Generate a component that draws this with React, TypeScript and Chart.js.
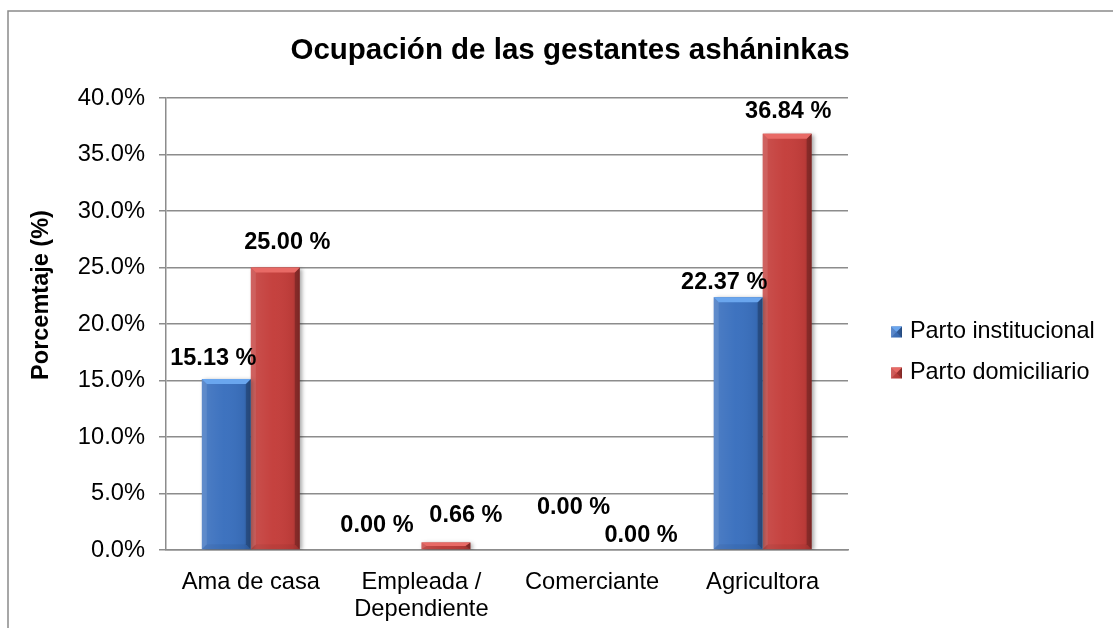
import React, { useEffect, useRef } from 'react';
import { Chart, registerables } from 'chart.js';

Chart.register(...registerables);

// ---------- data ----------
const chartTitle = 'Ocupación de las gestantes asháninkas';
const yAxisTitle = 'Porcemtaje (%)';
const categories: (string | string[])[] = ['Ama de casa', ['Empleada /', 'Dependiente'], 'Comerciante', 'Agricultora'];
const seriesNames = ['Parto institucional', 'Parto domiciliario'];
const partoInstitucional = [15.13, 0.0, 0.0, 22.37];
const partoDomiciliario = [25.0, 0.66, 0.0, 36.84];
const yMin = 0;
const yMax = 40;
const yStep = 5;

// ---------- styling ----------
const PAGE_W = 1113;
const PAGE_H = 628;
const CANVAS_W = 1113;
const FONT = '"Liberation Sans", Arial, Helvetica, sans-serif';
const GRID = '#8c8c8c';
const seriesBase = ['#3a70be', '#c43e3b'];
const seriesLight = ['#6aa6ee', '#e86a66'];
// label offsets (px): [dx from bar centre, height above bar top]
const labelShiftInst: number[][] = [[-13, 21], [-20, 24], [6, 42], [-14, 15]];
const labelShiftDom: number[][] = [[12, 24.5], [20, 27], [24.5, 14], [1, 22]];
const labelShifts = [labelShiftInst, labelShiftDom];

function poly(ctx: CanvasRenderingContext2D, pts: number[][], fill: string | CanvasGradient) {
  ctx.beginPath();
  ctx.moveTo(pts[0][0], pts[0][1]);
  for (let i = 1; i < pts.length; i++) ctx.lineTo(pts[i][0], pts[i][1]);
  ctx.closePath();
  ctx.fillStyle = fill;
  ctx.fill();
}

function bevelRect(ctx: CanvasRenderingContext2D, L: number, T: number, R: number, B: number, light: string) {
  const w = R - L;
  const h = B - T;
  if (h < 0.5 || w < 0.5) return;
  const by = Math.min(5, h / 2);
  const bx = Math.min(5, w / 2);
  const g = ctx.createLinearGradient(L, 0, R, 0);
  g.addColorStop(0, 'rgba(255,255,255,0.10)');
  g.addColorStop(0.45, 'rgba(255,255,255,0.02)');
  g.addColorStop(0.85, 'rgba(0,0,0,0.05)');
  g.addColorStop(1, 'rgba(0,0,0,0.2)');
  ctx.fillStyle = g;
  ctx.fillRect(L, T, w, h);
  poly(ctx, [[L, T], [L + bx, T + by], [L + bx, B - by], [L, B]], 'rgba(255,255,255,0.10)');
  poly(ctx, [[R, T], [R - bx, T + by], [R - bx, B - by], [R, B]], 'rgba(0,0,0,0.22)');
  poly(ctx, [[L, B], [L + bx, B - by], [R - bx, B - by], [R, B]], 'rgba(0,0,0,0.05)');
  poly(ctx, [[L, T], [R, T], [R - bx, T + by], [L + bx, T + by]], light);
}

const decorPlugin = {
  id: 'decor',
  beforeDraw(chart: any) {
    const ctx: CanvasRenderingContext2D = chart.ctx;
    ctx.save();
    ctx.strokeStyle = '#8a8a8a';
    ctx.lineWidth = 1.5;
    ctx.strokeRect(8, 11, CANVAS_W + 50, PAGE_H + 50);
    ctx.restore();
  },
  beforeDatasetsDraw(chart: any) {
    const ctx: CanvasRenderingContext2D = chart.ctx;
    ctx.save();
    ctx.shadowColor = 'rgba(0,0,0,0.35)';
    ctx.shadowBlur = 4;
    ctx.shadowOffsetX = 2;
    ctx.shadowOffsetY = 1;
  },
  afterDatasetsDraw(chart: any) {
    const ctx: CanvasRenderingContext2D = chart.ctx;
    ctx.restore();
    ctx.save();
    chart.data.datasets.forEach((ds: any, di: number) => {
      const meta = chart.getDatasetMeta(di);
      meta.data.forEach((el: any) => {
        const { x, y, base, width } = el.getProps(['x', 'y', 'base', 'width'], true);
        bevelRect(ctx, x - width / 2, Math.min(y, base), x + width / 2, Math.max(y, base), seriesLight[di]);
      });
    });
    // data labels
    ctx.fillStyle = '#000';
    ctx.font = `bold 23.5px ${FONT}`;
    ctx.textAlign = 'center';
    ctx.textBaseline = 'middle';
    chart.data.datasets.forEach((ds: any, di: number) => {
      const meta = chart.getDatasetMeta(di);
      meta.data.forEach((el: any, i: number) => {
        const { x, y } = el.getProps(['x', 'y'], true);
        const [dx, dy] = labelShifts[di][i];
        ctx.fillText(`${Number(ds.data[i]).toFixed(2)} %`, x + dx, y - dy);
      });
    });
    ctx.restore();
  },
  afterDraw(chart: any) {
    const ctx: CanvasRenderingContext2D = chart.ctx;
    ctx.save();
    // title
    ctx.fillStyle = '#000';
    ctx.textAlign = 'center';
    ctx.textBaseline = 'middle';
    ctx.font = `bold 29.5px ${FONT}`;
    ctx.fillText(chartTitle, 570, 51);
    // y axis title
    ctx.save();
    ctx.translate(42, 295);
    ctx.rotate(-Math.PI / 2);
    ctx.font = `bold 23.5px ${FONT}`;
    ctx.fillText(yAxisTitle, 0, 0);
    ctx.restore();
    // legend
    const ys = [332, 373];
    seriesNames.forEach((name, i) => {
      const mx = 891;
      const mw = 11;
      const mh = 11;
      const my = ys[i] - mh / 2;
      ctx.fillStyle = seriesBase[i];
      ctx.fillRect(mx, my, mw, mh);
      bevelRect(ctx, mx, my, mx + mw, my + mh, seriesLight[i]);
      ctx.fillStyle = '#000';
      ctx.textAlign = 'left';
      ctx.font = `23.4px ${FONT}`;
      ctx.fillText(name, 910, ys[i]);
    });
    ctx.restore();
  },
};

export default function App() {
  const ref = useRef<HTMLCanvasElement | null>(null);
  useEffect(() => {
    if (!ref.current) return;
    const chart = new Chart(ref.current, {
      type: 'bar',
      data: {
        labels: categories,
        datasets: [
          { label: seriesNames[0], data: partoInstitucional, backgroundColor: seriesBase[0], borderWidth: 0 },
          { label: seriesNames[1], data: partoDomiciliario, backgroundColor: seriesBase[1], borderWidth: 0 },
        ],
      },
      options: {
        responsive: false,
        maintainAspectRatio: false,
        animation: false,
        devicePixelRatio: 1,
        events: [],
        layout: { padding: { top: 98, right: CANVAS_W - 848, bottom: 0, left: 0 } },
        datasets: { bar: { categoryPercentage: 0.574, barPercentage: 1 } },
        plugins: {
          legend: { display: false },
          title: { display: false },
          tooltip: { enabled: false },
        },
        scales: {
          x: {
            grid: { display: false },
            border: { display: true, color: GRID, width: 1.5 },
            ticks: {
              color: '#000',
              font: { family: FONT, size: 23.7, lineHeight: 27 / 23.7 },
              padding: 10.5,
              maxRotation: 0,
              autoSkip: false,
            },
            afterFit: (s: any) => { s.height = PAGE_H - 550; },
          },
          y: {
            min: yMin,
            max: yMax,
            ticks: {
              stepSize: yStep,
              color: '#000',
              font: { family: FONT, size: 23.7 },
              padding: 14,
              callback: (v: any) => `${Number(v).toFixed(1)}%`,
            },
            grid: { color: GRID, lineWidth: 1.5, tickLength: 6.5, drawTicks: true },
            border: { display: true, color: GRID, width: 1.5 },
            afterFit: (s: any) => { s.width = 165.5; },
          },
        },
      },
      plugins: [decorPlugin],
    });
    return () => chart.destroy();
  }, []);
  return (
    <div style={{ position: 'fixed', left: 0, top: 0, width: PAGE_W, height: PAGE_H, overflow: 'hidden', background: '#fff' }}>
      <canvas ref={ref} width={CANVAS_W} height={PAGE_H} style={{ display: 'block' }} />
    </div>
  );
}
